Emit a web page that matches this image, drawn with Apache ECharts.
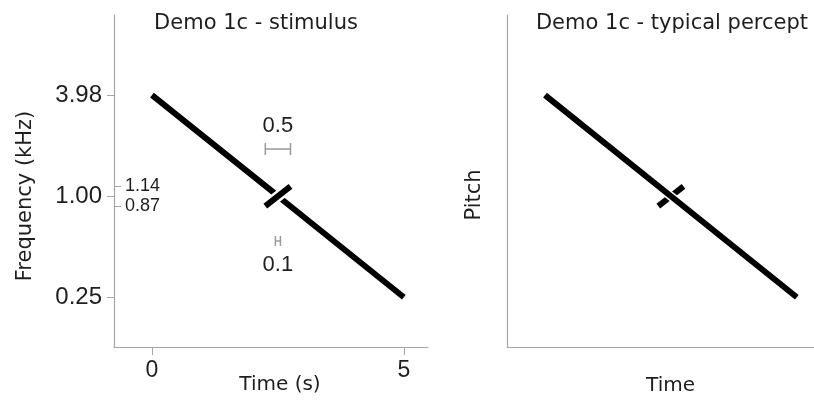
<!DOCTYPE html>
<html>
<head>
<meta charset="utf-8">
<script src="https://cdn.jsdelivr.net/npm/echarts@6/dist/echarts.min.js"></script>
<style>
  html, body { margin: 0; padding: 0; background: #fff; }
  #chart { width: 814px; height: 401px; }
</style>
</head>
<body>
<div id="chart"></div>
<script>
// Tick values: time in seconds, frequency in kHz
const timeTicks = [0, 5];
const freqTicks = [3.98, 1.00, 0.25];
const crossFreqTicks = [1.14, 0.87];

// Stimulus: falling glide interrupted by a short gap ...
const glideBeforeGap = [[0, 3.98], [2.45, 1.03]];
const glideAfterGap = [[2.55, 0.97], [5, 0.25]];
// ... crossed by a short rising glide
const crossGlide = [[2.25, 0.87], [2.75, 1.14]];

// Percept: the falling glide heard as continuous
const perceivedGlide = [[0, 3.98], [5, 0.25]];

// Duration markers [start s, end s]
const crossSpan = [2.25, 2.75];
const gapSpan = [2.45, 2.55];
const crossSpanLabel = '0.5';
const gapSpanLabel = '0.1';

const INK = '#1e1e1e';
const AXIS = '#a6a6a6';
const WORD_FONT = 'DejaVu Sans';
const NUM_FONT = 'Liberation Sans';

const chart = echarts.init(document.getElementById('chart'));

function glideSeries(data, xi, opts) {
  return Object.assign({
    type: 'line',
    xAxisIndex: xi,
    yAxisIndex: xi === 0 ? 0 : 2,
    data: data,
    symbol: 'none',
    silent: true,
    animation: false,
    lineStyle: { color: '#000', width: 6, cap: 'butt' },
    z: 4
  }, opts || {});
}

function haloSeries(data, xi, width, z) {
  return glideSeries(data, xi, {
    lineStyle: { color: '#fff', width: width, cap: 'butt' },
    z: z
  });
}

// Bracket showing a duration, drawn above or below the 1 kHz crossing point
function spanSeries(span, label, above) {
  return {
    type: 'custom',
    xAxisIndex: 0,
    yAxisIndex: 0,
    silent: true,
    animation: false,
    z: 5,
    data: [[span[0], span[1], 1]],
    encode: { x: [0, 1], y: 2 },
    renderItem: function (params, api) {
      const p0 = api.coord([api.value(0), api.value(2)]);
      const p1 = api.coord([api.value(1), api.value(2)]);
      const y = p0[1] + (above ? -47 : 45);
      const cap = above ? 6 : 5;
      const st = { stroke: '#9a9a9a', lineWidth: 1.5 };
      return {
        type: 'group',
        children: [
          { type: 'line', shape: { x1: p0[0], y1: y, x2: p1[0], y2: y }, style: st },
          { type: 'line', shape: { x1: p0[0], y1: y - cap, x2: p0[0], y2: y + cap }, style: st },
          { type: 'line', shape: { x1: p1[0], y1: y - cap, x2: p1[0], y2: y + cap }, style: st },
          {
            type: 'text',
            x: (p0[0] + p1[0]) / 2,
            y: above ? y - 23 : y + 24,
            style: {
              text: label,
              fill: INK,
              fontFamily: NUM_FONT,
              fontSize: 22,
              align: 'center',
              verticalAlign: 'middle'
            }
          }
        ]
      };
    }
  };
}

const fmtFreq = v => Number(v).toFixed(2);

const option = {
  backgroundColor: '#fff',
  animation: false,
  title: [
    {
      text: 'Demo 1c - stimulus', left: 251, top: 8, textAlign: 'center',
      textStyle: { fontFamily: WORD_FONT, fontSize: 21, fontWeight: 'normal', color: INK }
    },
    {
      text: 'Demo 1c - typical percept', left: 667, top: 8, textAlign: 'center',
      textStyle: { fontFamily: WORD_FONT, fontSize: 21, fontWeight: 'normal', color: INK }
    }
  ],
  grid: [
    { left: 114, top: 15, width: 314, height: 332, containLabel: false, outerBoundsMode: 'none' },
    { left: 507, top: 15, width: 307, height: 332, containLabel: false, outerBoundsMode: 'none' }
  ],
  xAxis: [
    {
      gridIndex: 0, type: 'value', min: -0.754, max: 5.48,
      name: 'Time (s)', nameLocation: 'middle', nameGap: 28, nameMoveOverlap: false,
      nameTextStyle: { fontFamily: WORD_FONT, fontSize: 20, color: INK, padding: [0, 0, 0, 18] },
      axisLine: { onZero: false, lineStyle: { color: AXIS, width: 1.2 } },
      axisTick: { show: true, length: 8, customValues: timeTicks, lineStyle: { color: AXIS } },
      axisLabel: { customValues: timeTicks, margin: 12, fontFamily: NUM_FONT, fontSize: 23, color: INK },
      splitLine: { show: false }
    },
    {
      gridIndex: 1, type: 'value', min: -0.754, max: 5.341,
      name: 'Time', nameLocation: 'middle', nameGap: 29, nameMoveOverlap: false,
      nameTextStyle: { fontFamily: WORD_FONT, fontSize: 20, color: INK, padding: [0, 0, 0, 20] },
      axisLine: { onZero: false, lineStyle: { color: AXIS, width: 1.2 } },
      axisTick: { show: false },
      axisLabel: { show: false },
      splitLine: { show: false }
    }
  ],
  yAxis: [
    {
      gridIndex: 0, type: 'log', logBase: 2, min: 0.1264, max: 11.94,
      name: 'Frequency (kHz)', nameLocation: 'middle', nameGap: 78, nameMoveOverlap: false,
      nameTextStyle: { fontFamily: WORD_FONT, fontSize: 21, color: INK, padding: [0, 30, 0, 0] },
      axisLine: { show: true, onZero: false, lineStyle: { color: AXIS, width: 1.2 } },
      axisTick: { show: true, length: 7, customValues: freqTicks, lineStyle: { color: AXIS } },
      axisLabel: { customValues: freqTicks, formatter: fmtFreq, margin: 12, fontFamily: NUM_FONT, fontSize: 24, color: INK },
      splitLine: { show: false }
    },
    {
      gridIndex: 0, type: 'log', logBase: 2, min: 0.1264, max: 11.94, position: 'left',
      axisLine: { show: false, onZero: false },
      axisTick: { show: true, inside: true, length: 7, customValues: crossFreqTicks, lineStyle: { color: AXIS } },
      axisLabel: { inside: true, customValues: crossFreqTicks, formatter: fmtFreq, margin: 11, fontFamily: NUM_FONT, fontSize: 18, color: INK },
      splitLine: { show: false }
    },
    {
      gridIndex: 1, type: 'log', logBase: 2, min: 0.1264, max: 11.94,
      name: 'Pitch', nameLocation: 'middle', nameGap: 22, nameMoveOverlap: false,
      nameTextStyle: { fontFamily: WORD_FONT, fontSize: 21, color: INK, padding: [0, 28, 0, 0] },
      axisLine: { show: true, onZero: false, lineStyle: { color: AXIS, width: 1.2 } },
      axisTick: { show: false },
      axisLabel: { show: false },
      splitLine: { show: false }
    }
  ],
  series: [
    // Stimulus panel: gapped falling glide, rising glide on top
    glideSeries(glideBeforeGap, 0, { z: 2 }),
    glideSeries(glideAfterGap, 0, { z: 2 }),
    haloSeries(crossGlide, 0, 11, 3),
    glideSeries(crossGlide, 0, { z: 4 }),
    spanSeries(crossSpan, crossSpanLabel, true),
    spanSeries(gapSpan, gapSpanLabel, false),
    // Percept panel: continuous falling glide over the rising glide
    glideSeries(crossGlide, 1, { z: 2 }),
    haloSeries(perceivedGlide, 1, 9, 3),
    glideSeries(perceivedGlide, 1, { z: 4 })
  ]
};

chart.setOption(option);
</script>
</body>
</html>
